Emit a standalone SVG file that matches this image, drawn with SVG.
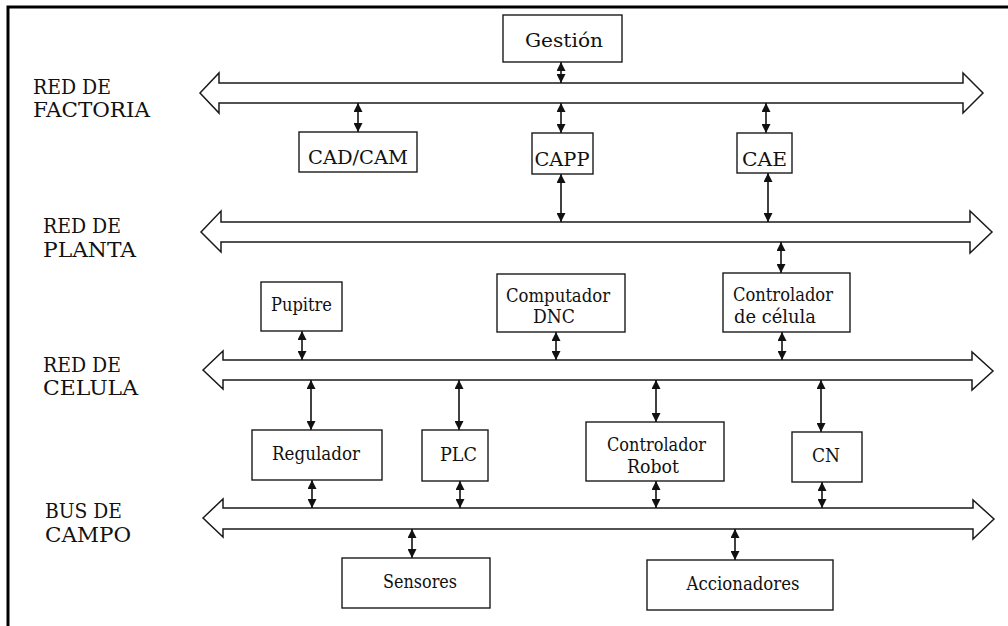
<svg xmlns="http://www.w3.org/2000/svg" width="1008" height="626" viewBox="0 0 1008 626">
  <style>
    .frame { fill: none; stroke: #000; stroke-width: 3; }
    .bus { fill: #fff; stroke: #1a1a1a; stroke-width: 1.5; stroke-linejoin: miter; }
    .box { fill: #fff; stroke: #1a1a1a; stroke-width: 1.4; }
    .lbl { font-family: "DejaVu Serif", "Liberation Serif", serif; font-size: 19px; fill: #111; text-anchor: middle; }
    .net { font-family: "DejaVu Serif", "Liberation Serif", serif; font-size: 21px; fill: #111; }
    .link { stroke: #111; stroke-width: 1.6; fill: none; marker-start: url(#head); marker-end: url(#head); }
  </style>
  <defs>
    <marker id="head" viewBox="0 0 10 10" refX="10" refY="5" markerUnits="userSpaceOnUse" markerWidth="9" markerHeight="9" orient="auto-start-reverse">
      <path d="M0,0 L10,5 L0,10 Z" fill="#111"/>
    </marker>
  </defs>

  <rect width="1008" height="626" fill="#fff"/>

  <!-- page frame: top and left rules -->
  <path class="frame" d="M8,626 L8,7 L1008,7"/>

  <!-- network level labels -->
  <g id="labels">
    <text class="net" x="33" y="94" textLength="78" lengthAdjust="spacingAndGlyphs">RED DE</text>
    <text class="net" x="33" y="117" textLength="117" lengthAdjust="spacingAndGlyphs">FACTORIA</text>
    <text class="net" x="43" y="233" textLength="78" lengthAdjust="spacingAndGlyphs">RED DE</text>
    <text class="net" x="43" y="257" textLength="93" lengthAdjust="spacingAndGlyphs">PLANTA</text>
    <text class="net" x="43" y="372" textLength="78" lengthAdjust="spacingAndGlyphs">RED DE</text>
    <text class="net" x="43" y="395" textLength="95" lengthAdjust="spacingAndGlyphs">CELULA</text>
    <text class="net" x="45" y="518" textLength="77" lengthAdjust="spacingAndGlyphs">BUS DE</text>
    <text class="net" x="45" y="542" textLength="86" lengthAdjust="spacingAndGlyphs">CAMPO</text>
  </g>

  <!-- double-headed bus arrows -->
  <g id="buses">
    <path id="bus-factoria" class="bus" d="M200,93 L219,73 L219,83 L963,83 L963,73 L983,93 L963,113 L963,103 L219,103 L219,113 Z"/>
    <path id="bus-planta" class="bus" d="M201,232 L221,211 L221,222 L970,222 L970,211 L992,232 L970,253 L970,242 L221,242 L221,252 Z"/>
    <path id="bus-celula" class="bus" d="M203,370 L223,351 L223,360 L972,360 L972,352 L993,371 L972,390 L972,380 L223,380 L223,389 Z"/>
    <path id="bus-campo" class="bus" d="M203,518 L223,499 L223,508 L973,508 L973,500 L994,519 L973,539 L973,529 L223,529 L223,537 Z"/>
  </g>

  <!-- links between nodes and buses -->
  <g id="connectors">
    <line class="link" x1="561" y1="62" x2="561" y2="83"/>
    <line class="link" x1="358" y1="103" x2="358" y2="132"/>
    <line class="link" x1="561" y1="103" x2="561" y2="133"/>
    <line class="link" x1="766" y1="103" x2="766" y2="133"/>
    <line class="link" x1="561" y1="174" x2="561" y2="222"/>
    <line class="link" x1="768" y1="173" x2="768" y2="222"/>
    <line class="link" x1="781" y1="242" x2="781" y2="273"/>
    <line class="link" x1="302" y1="331" x2="302" y2="360"/>
    <line class="link" x1="556" y1="332" x2="556" y2="360"/>
    <line class="link" x1="782" y1="332" x2="782" y2="360"/>
    <line class="link" x1="311" y1="380" x2="311" y2="430"/>
    <line class="link" x1="459" y1="380" x2="459" y2="430"/>
    <line class="link" x1="656" y1="380" x2="656" y2="422"/>
    <line class="link" x1="821" y1="380" x2="821" y2="432"/>
    <line class="link" x1="312" y1="480" x2="312" y2="508"/>
    <line class="link" x1="460" y1="481" x2="460" y2="508"/>
    <line class="link" x1="656" y1="481" x2="656" y2="508"/>
    <line class="link" x1="822" y1="482" x2="822" y2="508"/>
    <line class="link" x1="412" y1="529" x2="412" y2="558"/>
    <line class="link" x1="735" y1="529" x2="735" y2="560"/>
  </g>

  <!-- nodes -->
  <g id="gestion">
    <rect class="box" x="503" y="15" width="119" height="47"/>
    <text class="lbl" x="564" y="47" textLength="78" lengthAdjust="spacingAndGlyphs">Gestión</text>
  </g>
  <g id="cadcam">
    <rect class="box" x="299" y="132" width="118" height="40"/>
    <text class="lbl" x="358" y="164" textLength="100" lengthAdjust="spacingAndGlyphs">CAD/CAM</text>
  </g>
  <g id="capp">
    <rect class="box" x="532" y="133" width="61" height="41"/>
    <text class="lbl" x="562" y="166" textLength="55" lengthAdjust="spacingAndGlyphs">CAPP</text>
  </g>
  <g id="cae">
    <rect class="box" x="737" y="133" width="55" height="40"/>
    <text class="lbl" x="764.5" y="166" textLength="45" lengthAdjust="spacingAndGlyphs">CAE</text>
  </g>
  <g id="pupitre">
    <rect class="box" x="261" y="282" width="81" height="49"/>
    <text class="lbl" x="301.5" y="311" textLength="61" lengthAdjust="spacingAndGlyphs">Pupitre</text>
  </g>
  <g id="computador-dnc">
    <rect class="box" x="497" y="274" width="128" height="58"/>
    <text class="lbl" x="558" y="302" textLength="104" lengthAdjust="spacingAndGlyphs">Computador</text>
    <text class="lbl" x="554" y="323" textLength="42" lengthAdjust="spacingAndGlyphs">DNC</text>
  </g>
  <g id="controlador-celula">
    <rect class="box" x="723" y="273" width="127" height="59"/>
    <text class="lbl" x="783" y="301" textLength="100" lengthAdjust="spacingAndGlyphs">Controlador</text>
    <text class="lbl" x="775" y="323" textLength="82" lengthAdjust="spacingAndGlyphs">de célula</text>
  </g>
  <g id="regulador">
    <rect class="box" x="252" y="430" width="130" height="50"/>
    <text class="lbl" x="316" y="460" textLength="88" lengthAdjust="spacingAndGlyphs">Regulador</text>
  </g>
  <g id="plc">
    <rect class="box" x="422" y="430" width="66" height="51"/>
    <text class="lbl" x="458.5" y="461" textLength="37" lengthAdjust="spacingAndGlyphs">PLC</text>
  </g>
  <g id="controlador-robot">
    <rect class="box" x="586" y="422" width="138" height="59"/>
    <text class="lbl" x="656.5" y="451" textLength="99" lengthAdjust="spacingAndGlyphs">Controlador</text>
    <text class="lbl" x="653" y="473" textLength="52" lengthAdjust="spacingAndGlyphs">Robot</text>
  </g>
  <g id="cn">
    <rect class="box" x="792" y="432" width="70" height="50"/>
    <text class="lbl" x="826" y="462" textLength="28" lengthAdjust="spacingAndGlyphs">CN</text>
  </g>
  <g id="sensores">
    <rect class="box" x="342" y="558" width="148" height="50"/>
    <text class="lbl" x="420" y="588" textLength="74" lengthAdjust="spacingAndGlyphs">Sensores</text>
  </g>
  <g id="accionadores">
    <rect class="box" x="647" y="560" width="186" height="50"/>
    <text class="lbl" x="743" y="590" textLength="113" lengthAdjust="spacingAndGlyphs">Accionadores</text>
  </g>
</svg>
